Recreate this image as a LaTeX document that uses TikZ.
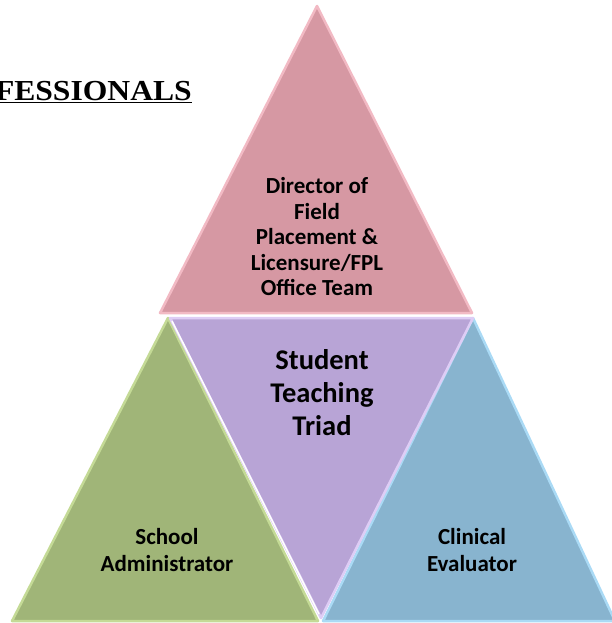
\documentclass[tikz,border=0pt]{standalone}
\usepackage{fontspec}
\setmainfont{Liberation Serif}
\newfontfamily\carl{Carlito}
\definecolor{pinkf}{RGB}{214,152,163}
\definecolor{pinkl}{RGB}{242,186,196}
\definecolor{purpf}{RGB}{184,164,214}
\definecolor{purpl}{RGB}{222,205,245}
\definecolor{greenf}{RGB}{160,181,120}
\definecolor{greenl}{RGB}{196,218,150}
\definecolor{bluef}{RGB}{136,180,207}
\definecolor{bluel}{RGB}{170,218,245}
\tikzset{
  tri/.style={line width=2.5pt, line join=round},
  lbl/.style={align=center, text=black, font=\carl\bfseries\fontsize{23}{25.5}\selectfont},
  sidelbl/.style={align=center, text=black, font=\carl\bfseries\fontsize{23}{27}\selectfont},
  biglbl/.style={align=center, text=black, font=\carl\bfseries\fontsize{28.5}{33}\selectfont},
}
\begin{document}
\begin{tikzpicture}[x=1pt,y=-1pt]
\useasboundingbox (0,0) rectangle (611,623);
% top pink triangle
\coordinate (ta) at (317,6);
\coordinate (tl) at (160,313);
\coordinate (tr) at (472,313);
\filldraw[tri, fill=pinkf, draw=pinkl] (ta) -- (tr) -- (tl) -- cycle;
% green
\coordinate (ga) at (168,318);
\coordinate (gl) at (12,621);
\coordinate (gr) at (318,621);
\filldraw[tri, fill=greenf, draw=greenl] (ga) -- (gr) -- (gl) -- cycle;
% blue
\coordinate (ba) at (473,318);
\coordinate (bl) at (323,621);
\coordinate (br) at (615,621);
\filldraw[tri, fill=bluef, draw=bluel] (ba) -- (br) -- (bl) -- cycle;
% purple inverted
\coordinate (pl) at (170,318);
\coordinate (pr) at (473,318);
\coordinate (pb) at (321,618);
\filldraw[tri, fill=purpf, draw=purpl] (pl) -- (pr) -- (pb) -- cycle;
\draw[white, line width=1.5pt] (172,321) -- (319,614);
% title
\node[anchor=base east, inner sep=0pt, xscale=1.09, font=\bfseries\fontsize{29}{31}\selectfont] (title) at (192,101) {\underline{FESSIONALS}};
% labels
\node[lbl] (dir) at (317,237) {Director of\\Field\\Placement \&\\Licensure/FPL\\Office Team};
\node[biglbl] (triad) at (322,393) {Student\\Teaching\\Triad};
\node[sidelbl] (school) at (167,550) {School\\Administrator};
\node[sidelbl] (clin) at (472,550) {Clinical\\Evaluator};
\end{tikzpicture}
\end{document}
